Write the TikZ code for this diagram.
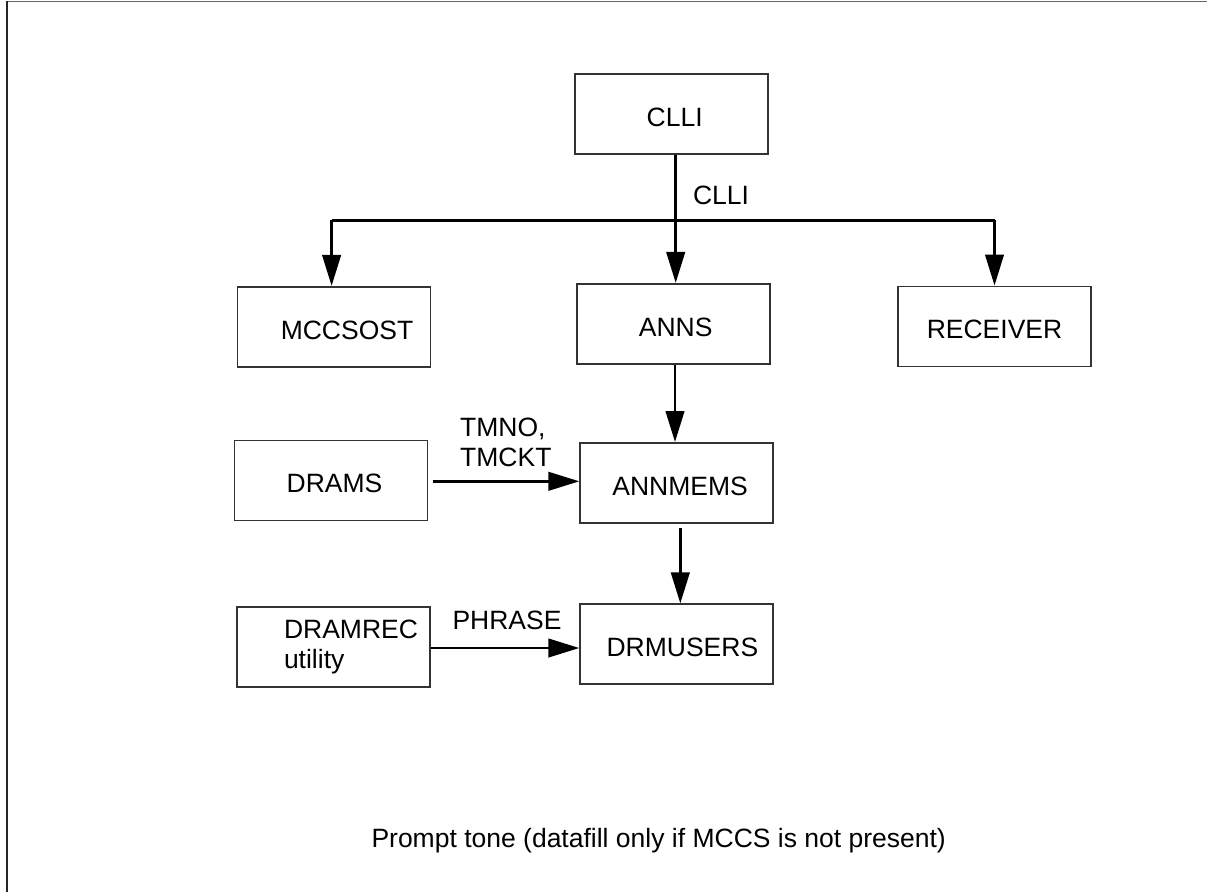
\documentclass[tikz,border=0pt]{standalone}
\usepackage{fontspec}
\setmainfont{Liberation Sans}
\usetikzlibrary{arrows.meta}
\begin{document}
\begin{tikzpicture}[x=1pt,y=-1pt,
  box/.style={draw=black!80, line width=1.6pt, minimum width=193pt, minimum height=80pt, inner sep=0pt,
    font=\fontsize{26.5}{30}\selectfont},
  onebox/.style={box, text height=25.3pt, text depth=0pt},
  conn/.style={line width=2.7pt, black},
  arr/.style={conn, -{Triangle[length=31pt,width=18.5pt]}},
  lbl/.style={inner sep=0pt, font=\fontsize{26.5}{30}\selectfont}]
\useasboundingbox (0,0) rectangle (1207,892);
% frame
\draw[black!60, line width=1.5pt] (6.5,1.7) -- (1207,1.7);
\draw[black!85, line width=2pt] (6.5,1) -- (6.5,892);
% boxes
\node[onebox] (clli) at (671.7,113.8) {\hspace*{6pt}CLLI};
\node[onebox] (mccsost) at (334,326.7) {\hspace*{26pt}MCCSOST};
\node[onebox] (anns) at (673.7,323.7) {\hspace*{4pt}ANNS};
\node[onebox] (receiver) at (994.5,326.3) {RECEIVER};
\node[onebox] (drams) at (331,480.3) {\hspace*{7pt}DRAMS};
\node[onebox] (annmems) at (676.6,482.8) {\hspace*{7pt}ANNMEMS};
\node[box, align=left] (dramrec) at (333.5,646.7) {\hspace*{35pt}DRAMREC\\\hspace*{35pt}utility};
\node[onebox] (drmusers) at (676.6,644.2) {\hspace*{11.6pt}DRMUSERS};
% hub
\coordinate (hub) at (675.7,220.3);
\draw[arr] (hub |- clli.south) -- (hub |- anns.north);
\draw[conn] ([xshift=-2.4pt]hub -| mccsost.north) -- (hub -| receiver.north);
\draw[arr] ([xshift=-2.4pt]hub -| mccsost.north) -- ([xshift=-2.4pt]mccsost.north);
\draw[arr] (hub -| receiver.north) -- (receiver.north);
\node[lbl] (lclli) at (721,195) {CLLI};
% lower connectors
\draw[arr] ([xshift=1.3pt]anns.south) -- ([xshift=1.3pt]anns.south |- annmems.north);
\draw[arr] ([xshift=3.7pt,yshift=-4.4pt]annmems.south) -- ([xshift=3.7pt]drmusers.north);
\draw[arr] ([xshift=4.2pt,yshift=-1pt]drams.east) -- ([yshift=-1pt]drams.east -| annmems.west);
\draw[arr] ([yshift=-1.3pt]dramrec.east) -- ([yshift=-1.3pt]dramrec.east -| drmusers.west);
\node[lbl, align=left, anchor=west] (ltm) at (460,442) {TMNO,\\TMCKT};
\node[lbl] (lphrase) at (507,620.5) {PHRASE};
\node[lbl] (note) at (658.7,841) {Prompt tone (datafill only if MCCS is not present)};
\end{tikzpicture}
\end{document}
